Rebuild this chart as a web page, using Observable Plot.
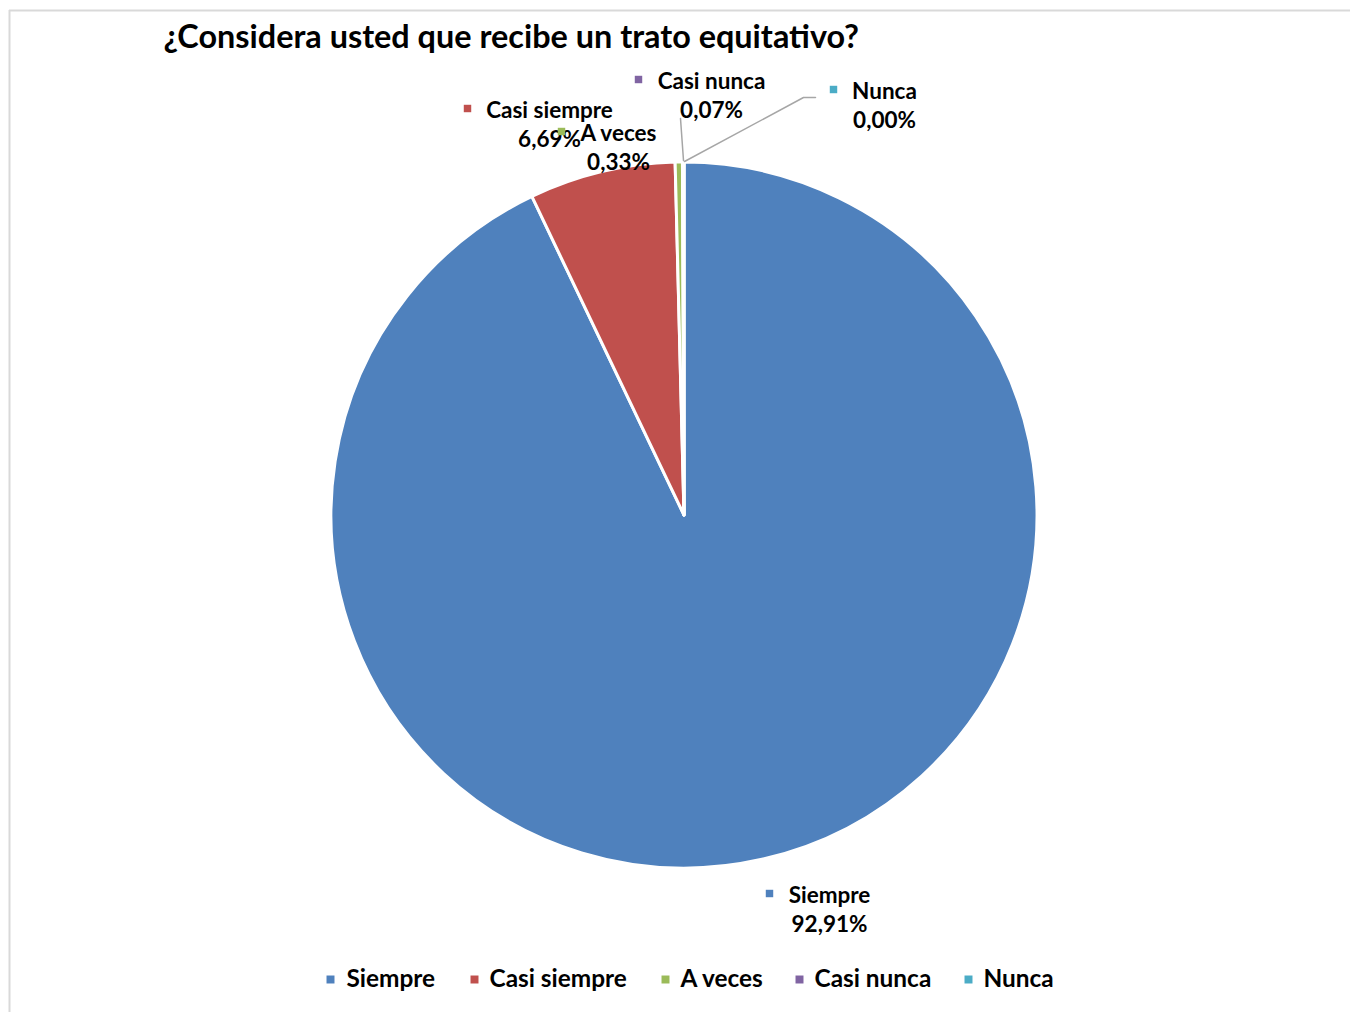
<!DOCTYPE html>
<html><head><meta charset="utf-8">
<script src="https://cdn.jsdelivr.net/npm/d3@7"></script>
<script src="https://cdn.jsdelivr.net/npm/@observablehq/plot@0.6"></script>
<style>html,body{margin:0;padding:0;background:#fff;} svg{display:block}</style>
</head><body><div id="chart"></div>
<script>
// ---- data ----
const title = "¿Considera usted que recibe un trato equitativo?";
const categories = ["Siempre", "Casi siempre", "A veces", "Casi nunca", "Nunca"];
const percents = [92.91, 6.69, 0.33, 0.07, 0.00];
const colors = ["#4F81BD", "#C0504D", "#9BBB59", "#8064A2", "#4BACC6"];

// ---- layout (pixels) ----
const W = 1350, H = 1012, CX = 684, CY = 515, R = 353;
const FONT = "Lato, 'Liberation Sans', sans-serif";
// data-label anchors: name centre x, name centre y, marker x
const labelPos = [
  {nx: 829, ny: 895, mx: 769},
  {nx: 549, ny: 110, mx: 467},
  {nx: 618, ny: 133, mx: 561},
  {nx: 711, ny: 81,  mx: 638},
  {nx: 884, ny: 91,  mx: 833}
];
const legendPos = [{mx: 330, tx: 346}, {mx: 474, tx: 489}, {mx: 665, tx: 680}, {mx: 799, tx: 814}, {mx: 968, tx: 983}];
const legendY = 979;
const leaders = [
  {id: "Casi nunca", pts: [[680, 118], [683, 160]]},
  {id: "Nunca", pts: [[684, 161], [803, 97], [815, 97]]}
];

const fmt = v => v.toFixed(2).replace(".", ",") + "%";
const rows = categories.map((c, i) => ({category: c, value: percents[i]}));
const arcs = d3.pie().sort(null).value(d => d.value)(rows);
const labels = rows.map((r, i) => ({...r, ...labelPos[i], pct: fmt(r.value)}));
const legend = rows.map((r, i) => ({...r, ...legendPos[i], y: legendY}));
const leaderPts = leaders.flatMap(l => l.pts.map(([x, y]) => ({id: l.id, x, y})));

function pieMark(index, scales) {
  const sx = scales.x || (v => v), sy = scales.y || (v => v), color = scales.color;
  const arc = d3.arc().innerRadius(0).outerRadius(R);
  const g = d3.create("svg:g").attr("transform", `translate(${sx(CX)},${sy(CY)})`);
  g.selectAll("path").data(arcs).join("path")
    .attr("d", arc)
    .attr("fill", d => color(d.data.category))
    .attr("stroke", "#fff").attr("stroke-width", 3).attr("stroke-linejoin", "round");
  return g.node();
}

const chart = Plot.plot({
  width: W, height: H,
  marginTop: 0, marginRight: 0, marginBottom: 0, marginLeft: 0,
  x: {type: "identity", axis: null},
  y: {type: "identity", axis: null},
  color: {domain: categories, range: colors},
  style: {fontFamily: FONT, background: "#fff"},
  marks: [
    Plot.ruleX([9], {y1: 10, y2: H, stroke: "#d9d9d9", strokeWidth: 2}),
    Plot.ruleY([10], {x1: 9, x2: W, stroke: "#d9d9d9", strokeWidth: 2}),
    pieMark,
    Plot.line(leaderPts, {x: "x", y: "y", z: "id", stroke: "#a6a6a6", strokeWidth: 1.5}),
    Plot.text([title], {x: 163, y: 37, text: d => d, textAnchor: "start", fontSize: 32.4, fontWeight: "bold", fill: "#000", fontFamily: FONT}),
    Plot.text(labels, {x: "nx", y: "ny", text: "category", textAnchor: "middle", fontSize: 22.5, fontWeight: "bold", fill: "#000", fontFamily: FONT}),
    Plot.text(labels, {x: "nx", y: d => d.ny + 29, text: "pct", textAnchor: "middle", fontSize: 22.5, fontWeight: "bold", fill: "#000", fontFamily: FONT}),
    Plot.dot(labels, {x: "mx", y: d => d.ny - 2, fill: "category", symbol: "square", r: 4.2}),
    Plot.dot(legend, {x: "mx", y: "y", fill: "category", symbol: "square", r: 4.5}),
    Plot.text(legend, {x: "tx", y: "y", text: "category", textAnchor: "start", fontSize: 24.4, fontWeight: "bold", fill: "#000", fontFamily: FONT})
  ]
});
document.getElementById("chart").append(chart);
</script>
</body></html>
